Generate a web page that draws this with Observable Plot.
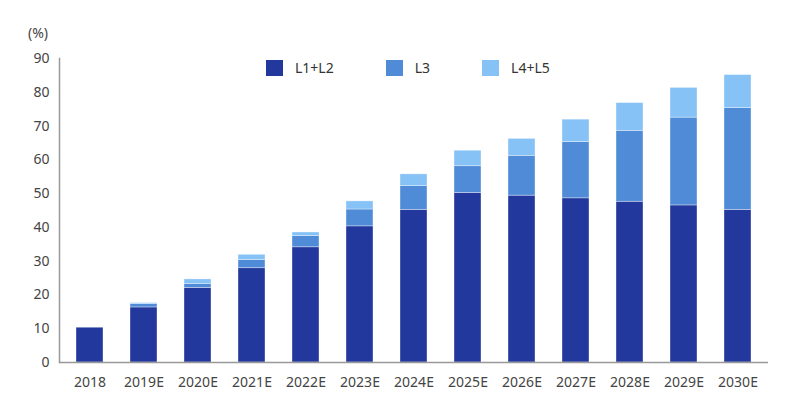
<!DOCTYPE html>
<html>
<head>
<meta charset="utf-8">
<script src="https://cdn.jsdelivr.net/npm/d3@7"></script>
<script src="https://cdn.jsdelivr.net/npm/@observablehq/plot@0.6"></script>
<style>
  html, body { margin: 0; padding: 0; background: #fff; }
  #wrap { position: relative; width: 810px; height: 420px; font-family: "Noto Sans", "Open Sans", sans-serif; }
  #unit { position: absolute; left: 28px; top: 23px; font-size: 14px; color: #444; }
  #legend { position: absolute; left: 266px; top: 58px; display: flex; align-items: center; font-size: 14px; color: #333; }
  .item { display: flex; align-items: center; margin-right: 52px; }
  .sw { width: 17px; height: 16px; margin-right: 12px; }
</style>
</head>
<body>
<div id="wrap">
  <div id="unit">(%)</div>
  <div id="legend"></div>
</div>
<script>
const years = ["2018","2019E","2020E","2021E","2022E","2023E","2024E","2025E","2026E","2027E","2028E","2029E","2030E"];
const l1l2 = [10.3, 16.3, 22.1, 27.9, 34.1, 40.3, 45.2, 50.2, 49.4, 48.6, 47.6, 46.5, 45.2];
const l3   = [0,    1.0,  1.2,  2.4,  3.3,  5.0,  7.0,  7.9, 11.8, 16.7, 21.0, 26.0, 30.1];
const l4l5 = [0,    0.3,  1.3,  1.6,  1.1,  2.4,  3.5,  4.6,  5.0,  6.6,  8.2,  8.8,  9.8];
const seriesNames = ["L1+L2", "L3", "L4+L5"];
const seriesColors = ["#23389c", "#508bd8", "#86c2f6"];
const yTicks = [0, 10, 20, 30, 40, 50, 60, 70, 80, 90];

const valuesBySeries = [l1l2, l3, l4l5];
const data = years.flatMap((year, i) =>
  seriesNames.map((s, j) => ({year, series: s, value: valuesBySeries[j][i]}))
);

const chart = Plot.plot({
  width: 810,
  height: 420,
  marginLeft: 59,
  marginRight: 42,
  marginTop: 58,
  marginBottom: 58,
  style: {fontFamily: '"Noto Sans", sans-serif', fontSize: "14px", color: "#444", background: "transparent"},
  x: {domain: years, paddingInner: 0.5, paddingOuter: 0.25, label: null},
  y: {domain: [0, 90], label: null},
  color: {domain: seriesNames, range: seriesColors},
  marks: [
    Plot.barY(data, {x: "year", y: "value", fill: "series", order: seriesNames, stroke: "#ffffff", strokeWidth: 0.6, strokeOpacity: 0.6}),
    Plot.axisY({ticks: yTicks, tickSize: 0, tickPadding: 10, fontSize: 14, label: null}),
    Plot.axisX({tickSize: 0, tickPadding: 15, fontSize: 14, label: null}),
    Plot.frame({anchor: "left", stroke: "#999", strokeWidth: 1.5}),
    Plot.ruleY([0], {stroke: "#999", strokeWidth: 1.5})
  ]
});
chart.style.position = "absolute";
chart.style.left = "0";
chart.style.top = "0";
const wrap = document.getElementById("wrap");
wrap.insertBefore(chart, wrap.firstChild);

const legend = document.getElementById("legend");
seriesNames.forEach((s, i) => {
  const item = document.createElement("div");
  item.className = "item";
  const sw = document.createElement("div");
  sw.className = "sw";
  sw.style.background = seriesColors[i];
  const t = document.createElement("span");
  t.textContent = s;
  item.appendChild(sw);
  item.appendChild(t);
  legend.appendChild(item);
});
</script>
</body>
</html>
